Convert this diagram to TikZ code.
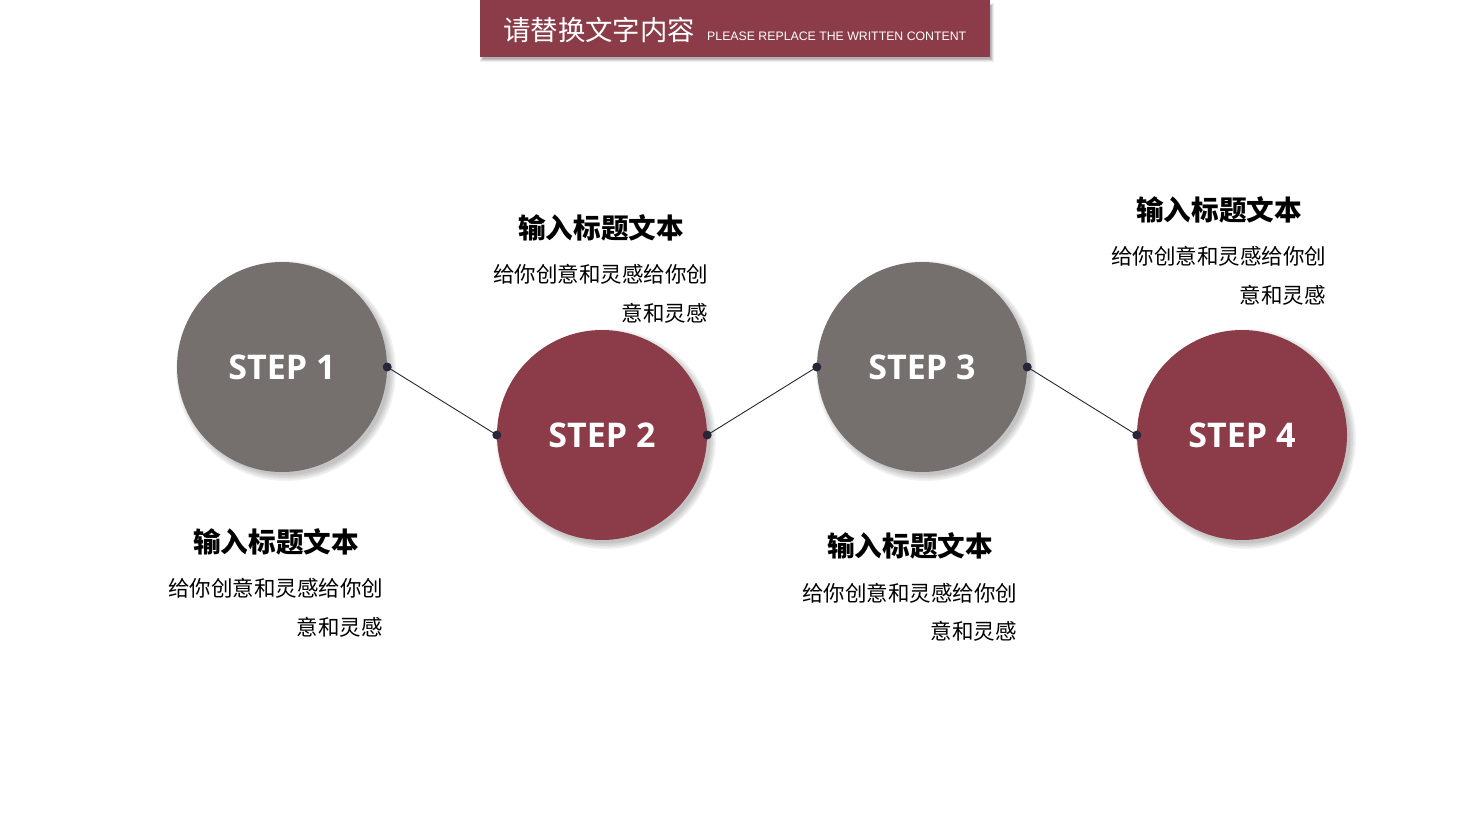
\documentclass[tikz,border=0pt]{standalone}
\usepackage{fontspec}
\newfontfamily\cjk{Noto Sans CJK SC}
\newfontfamily\stepfont{Open Sans}
\newfontfamily\enfont{Liberation Sans}
\definecolor{stepgray}{HTML}{75706E}
\definecolor{stepred}{HTML}{8B3C48}
\definecolor{linkc}{HTML}{262638}
\tikzset{
  stepcirc/.style={circle, minimum size=210pt, inner sep=0pt},
  steplabel/.style={text=white, font=\stepfont\bfseries\fontsize{34}{34}\selectfont, anchor=base, inner sep=0pt},
  ttl/.style={font=\cjk\bfseries\fontsize{27.6}{27.6}\selectfont, anchor=base, inner sep=0pt},
  bodya/.style={font=\cjk\fontsize{21.5}{21.5}\selectfont, anchor=base, inner sep=0pt},
  bodyb/.style={font=\cjk\fontsize{21.5}{21.5}\selectfont, anchor=base east, inner sep=0pt},
  dotc/.style={circle, fill=linkc, minimum size=9pt, inner sep=0pt},
  link/.style={draw=linkc, line width=0.9pt},
}
\begin{document}
\begin{tikzpicture}[x=1pt,y=-1pt]
\useasboundingbox (0,0) rectangle (1467,825);
% header shadow
\foreach \i in {0,...,4}{
  \fill[black, opacity=0.07] (480+\i*0.8,3+\i*0.8) rectangle (994-\i*0.8,62-\i*0.8);
}
\node[fill=stepred, minimum width=510pt, minimum height=57pt, inner sep=0pt, anchor=north west] (hdr) at (480,0) {};
\node[text=white, font=\cjk\fontsize{27.4}{27.4}\selectfont, anchor=base west, inner sep=0pt] (hzh) at (503,40) {请替换文字内容};
\node[text=white, font=\enfont\fontsize{12.3}{12.3}\selectfont, anchor=base west, inner sep=0pt] (hen) at (707,40) {PLEASE REPLACE THE WRITTEN CONTENT};
% circle shadows
\foreach \cx/\cy in {282/367, 602/435, 922/367, 1242/435}{
  \foreach \r in {110,108.5,107,105.5,104}{
    \fill[black, opacity=0.05] (\cx+4,\cy+4) circle[radius=\r];
  }
}
% circles
\node[stepcirc, fill=stepgray] (c1) at (282,367) {};
\node[stepcirc, fill=stepred] (c2) at (602,435) {};
\node[stepcirc, fill=stepgray] (c3) at (922,367) {};
\node[stepcirc, fill=stepred] (c4) at (1242,435) {};
\node[steplabel] (s1) at (282,379.5) {STEP 1};
\node[steplabel] (s2) at (602,447.5) {STEP 2};
\node[steplabel] (s3) at (922,379.5) {STEP 3};
\node[steplabel] (s4) at (1242,447.5) {STEP 4};
% connector dots
\node[dotc] (d1) at (c1.east) {};
\node[dotc] (d2) at (c2.west) {};
\node[dotc] (d3) at (c2.east) {};
\node[dotc] (d4) at (c3.west) {};
\node[dotc] (d5) at (c3.east) {};
\node[dotc] (d6) at (c4.west) {};
\draw[link] (d1.center) -- (d2.center);
\draw[link] (d3.center) -- (d4.center);
\draw[link] (d5.center) -- (d6.center);
% text blocks
\node[ttl] (t1) at (276,552) {输入标题文本};
\node[bodya] (b1a) at (275.5,596) {给你创意和灵感给你创};
\node[bodyb] (b1b) at (383,635) {意和灵感};
\node[ttl] (t2) at (601,238) {输入标题文本};
\node[bodya] (b2a) at (600.5,282) {给你创意和灵感给你创};
\node[bodyb] (b2b) at (708,321) {意和灵感};
\node[ttl] (t3) at (910,556) {输入标题文本};
\node[bodya] (b3a) at (909.5,601) {给你创意和灵感给你创};
\node[bodyb] (b3b) at (1017,639) {意和灵感};
\node[ttl] (t4) at (1219,220) {输入标题文本};
\node[bodya] (b4a) at (1218.5,264) {给你创意和灵感给你创};
\node[bodyb] (b4b) at (1326,303) {意和灵感};
\end{tikzpicture}
\end{document}
